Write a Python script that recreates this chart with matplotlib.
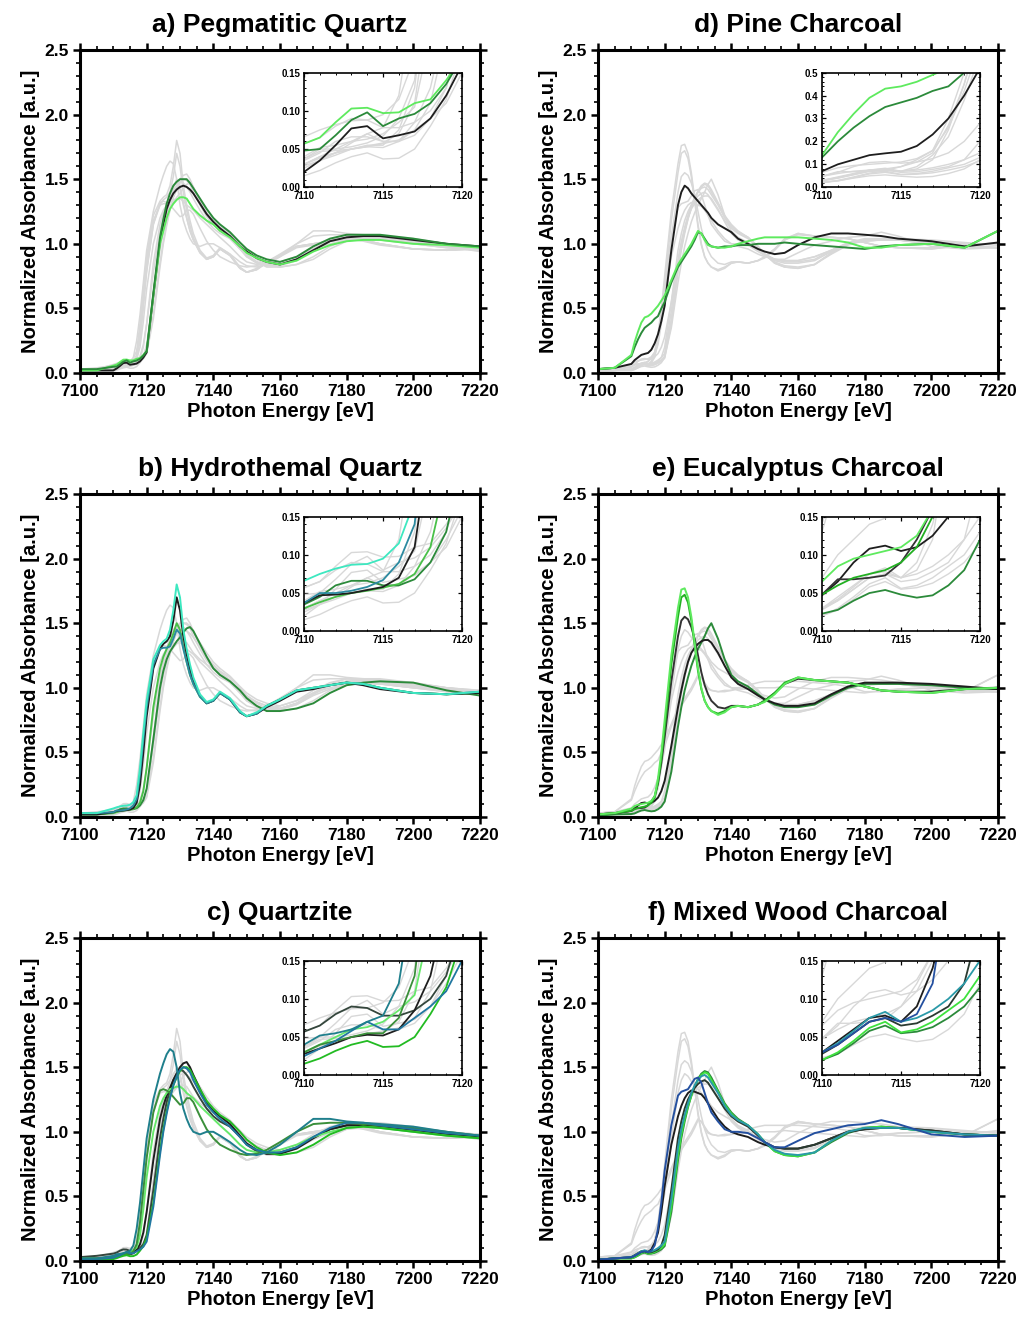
import matplotlib
matplotlib.use("Agg")
import matplotlib.pyplot as plt
from matplotlib.ticker import MultipleLocator, FormatStrFormatter

plt.rcParams['font.family'] = ['Liberation Sans', 'DejaVu Sans']
plt.rcParams['font.weight'] = 'bold'

# photon energy grid [eV]
energy = [7100, 7105, 7110, 7111, 7112, 7113, 7114, 7115, 7116, 7117, 7118, 7119, 7120,
          7122, 7124, 7125, 7126, 7127, 7128, 7129, 7130, 7131, 7132, 7133, 7134,
          7136, 7138, 7140, 7142, 7145, 7148, 7150, 7153, 7156, 7160, 7165, 7170,
          7175, 7180, 7185, 7190, 7200, 7210, 7220]

# a) Pegmatitic Quartz
a_black = [0.02, 0.02, 0.02, 0.035, 0.055, 0.077, 0.08, 0.064, 0.068, 0.073, 0.09, 0.12, 0.16,
           0.6, 1.02, 1.15, 1.27, 1.34, 1.39, 1.42, 1.44, 1.45, 1.44, 1.42, 1.39,
           1.31, 1.23, 1.17, 1.12, 1.06, 0.98, 0.94, 0.89, 0.86, 0.84, 0.88, 0.95,
           1.02, 1.05, 1.06, 1.06, 1.03, 1.0, 0.98]
a_dkgreen = [0.03, 0.03, 0.048, 0.05, 0.068, 0.088, 0.098, 0.08, 0.09, 0.096, 0.11, 0.135, 0.17,
             0.62, 1.05, 1.19, 1.31, 1.39, 1.45, 1.48, 1.5, 1.5, 1.5, 1.47, 1.43,
             1.35, 1.27, 1.2, 1.15, 1.09, 1.01, 0.96, 0.91, 0.88, 0.86, 0.9, 0.98,
             1.04, 1.07, 1.07, 1.07, 1.04, 1.0, 0.98]
a_ltgreen = [0.02, 0.02, 0.057, 0.065, 0.085, 0.103, 0.104, 0.097, 0.098, 0.11, 0.115, 0.14, 0.17,
             0.6, 1.0, 1.1, 1.2, 1.27, 1.31, 1.34, 1.36, 1.36, 1.35, 1.31, 1.27,
             1.22, 1.18, 1.15, 1.1, 1.05, 0.98, 0.93, 0.89, 0.86, 0.84, 0.87, 0.94,
             0.99, 1.02, 1.03, 1.03, 1.0, 0.99, 0.97]

# b) Hydrothemal Quartz
b_cyan = [0.03, 0.03, 0.066, 0.075, 0.082, 0.087, 0.088, 0.095, 0.115, 0.17, 0.38, 0.65, 0.9,
          1.22, 1.33, 1.36, 1.38, 1.45, 1.6, 1.8, 1.7, 1.45, 1.3, 1.18, 1.08,
          0.95, 0.89, 0.91, 0.97, 0.92, 0.82, 0.78, 0.81, 0.86, 0.91, 0.98, 1.0,
          1.02, 1.04, 1.03, 1.0, 0.96, 0.95, 0.97]
b_teal = [0.03, 0.03, 0.037, 0.05, 0.05, 0.053, 0.058, 0.067, 0.09, 0.14, 0.33, 0.6, 0.85,
          1.18, 1.3, 1.31, 1.31, 1.32, 1.38, 1.45, 1.42, 1.3, 1.2, 1.1, 1.03,
          0.93, 0.88, 0.9, 0.96, 0.91, 0.81, 0.78, 0.8, 0.86, 0.91, 0.98, 1.0,
          1.02, 1.04, 1.03, 1.0, 0.96, 0.95, 0.97]
b_black = [0.02, 0.02, 0.037, 0.047, 0.048, 0.05, 0.054, 0.058, 0.07, 0.11, 0.25, 0.5, 0.78,
           1.15, 1.3, 1.34, 1.36, 1.4, 1.52, 1.7, 1.6, 1.4, 1.26, 1.14, 1.05,
           0.94, 0.88, 0.9, 0.96, 0.91, 0.81, 0.78, 0.8, 0.85, 0.9, 0.97, 0.99,
           1.02, 1.04, 1.02, 0.99, 0.96, 0.95, 0.96]
b_green = [0.02, 0.02, 0.03, 0.038, 0.045, 0.05, 0.053, 0.057, 0.062, 0.075, 0.11, 0.2, 0.38,
           0.85, 1.15, 1.24, 1.3, 1.35, 1.42, 1.5, 1.45, 1.32, 1.2, 1.1, 1.03,
           0.93, 0.88, 0.9, 0.96, 0.91, 0.81, 0.78, 0.8, 0.86, 0.91, 0.98, 1.0,
           1.02, 1.04, 1.03, 1.0, 0.96, 0.95, 0.96]
b_dkgreen = [0.02, 0.02, 0.035, 0.045, 0.06, 0.066, 0.066, 0.06, 0.06, 0.068, 0.09, 0.13, 0.22,
             0.6, 1.0, 1.13, 1.22, 1.28, 1.32, 1.36, 1.39, 1.43, 1.46, 1.47, 1.44,
             1.34, 1.24, 1.15, 1.1, 1.05, 0.98, 0.92, 0.86, 0.82, 0.82, 0.84, 0.88,
             0.96, 1.02, 1.04, 1.05, 1.04, 0.98, 0.94]

# c) Quartzite
c_teal = [0.02, 0.02, 0.04, 0.052, 0.055, 0.06, 0.07, 0.078, 0.12, 0.25, 0.45, 0.7, 0.95,
          1.25, 1.45, 1.53, 1.6, 1.64, 1.62, 1.5, 1.3, 1.18, 1.1, 1.04, 1.0,
          0.98, 1.0, 1.0, 0.97, 0.92, 0.86, 0.83, 0.82, 0.84, 0.9, 1.0, 1.1,
          1.1, 1.08, 1.07, 1.06, 1.04, 1.0, 0.97]
c_green1 = [0.02, 0.02, 0.03, 0.04, 0.045, 0.05, 0.055, 0.055, 0.075, 0.13, 0.3, 0.55, 0.8,
            1.15, 1.32, 1.33, 1.32, 1.3, 1.27, 1.24, 1.21, 1.22, 1.26, 1.26, 1.23,
            1.12, 1.02, 0.95, 0.9, 0.86, 0.83, 0.82, 0.83, 0.86, 0.92, 1.0, 1.06,
            1.07, 1.07, 1.06, 1.05, 1.03, 1.0, 0.97]
c_black = [0.02, 0.02, 0.028, 0.035, 0.042, 0.05, 0.053, 0.052, 0.06, 0.085, 0.13, 0.22, 0.38,
           0.78, 1.1, 1.2, 1.28, 1.34, 1.4, 1.45, 1.5, 1.53, 1.54, 1.5, 1.44,
           1.33, 1.22, 1.16, 1.12, 1.06, 0.97, 0.91, 0.86, 0.83, 0.83, 0.87, 0.95,
           1.02, 1.05, 1.05, 1.05, 1.02, 0.98, 0.96]
c_dkgray = [0.03, 0.04, 0.057, 0.065, 0.08, 0.09, 0.088, 0.078, 0.078, 0.085, 0.1, 0.13, 0.2,
            0.55, 0.95, 1.1, 1.23, 1.32, 1.4, 1.45, 1.48, 1.47, 1.44, 1.4, 1.35,
            1.26, 1.18, 1.12, 1.08, 1.04, 0.96, 0.9, 0.85, 0.83, 0.84, 0.88, 0.96,
            1.02, 1.05, 1.05, 1.04, 1.01, 0.98, 0.96]
c_ltgreen = [0.02, 0.02, 0.03, 0.04, 0.05, 0.06, 0.063, 0.07, 0.085, 0.105, 0.2, 0.4, 0.65,
             1.0, 1.2, 1.26, 1.3, 1.33, 1.34, 1.35, 1.35, 1.33, 1.3, 1.28, 1.26,
             1.2, 1.15, 1.1, 1.05, 0.98, 0.9, 0.86, 0.84, 0.84, 0.86, 0.9, 0.96,
             1.0, 1.03, 1.04, 1.03, 1.0, 0.97, 0.95]
c_green2 = [0.01, 0.01, 0.015, 0.022, 0.032, 0.04, 0.045, 0.037, 0.038, 0.05, 0.08, 0.115, 0.18,
            0.45, 0.85, 1.02, 1.16, 1.27, 1.36, 1.42, 1.47, 1.5, 1.5, 1.48, 1.43,
            1.33, 1.24, 1.18, 1.13, 1.08, 1.0, 0.94, 0.88, 0.84, 0.82, 0.84, 0.9,
            0.98, 1.03, 1.04, 1.03, 1.0, 0.97, 0.95]
c_blue = [0.01, 0.015, 0.025, 0.035, 0.045, 0.058, 0.07, 0.06, 0.06, 0.075, 0.09, 0.11, 0.15,
          0.42, 0.82, 1.0, 1.14, 1.26, 1.36, 1.43, 1.48, 1.5, 1.49, 1.46, 1.4,
          1.3, 1.21, 1.15, 1.1, 1.04, 0.96, 0.9, 0.86, 0.84, 0.84, 0.88, 0.96,
          1.03, 1.07, 1.07, 1.05, 1.02, 0.99, 0.97]

# d) Pine Charcoal
d_black = [0.03, 0.04, 0.07, 0.1, 0.12, 0.14, 0.148, 0.155, 0.18, 0.23, 0.3, 0.4, 0.52,
           0.95, 1.3, 1.4, 1.45, 1.43, 1.39, 1.36, 1.33, 1.3, 1.27, 1.24, 1.2,
           1.15, 1.12, 1.09, 1.04, 1.0, 0.96, 0.94, 0.92, 0.93, 0.99, 1.05, 1.08,
           1.08, 1.07, 1.06, 1.04, 1.02, 0.98, 1.01]
d_dkgreen = [0.03, 0.04, 0.13, 0.2, 0.26, 0.31, 0.35, 0.37, 0.39, 0.42, 0.44, 0.5, 0.55,
             0.7, 0.82, 0.86, 0.9, 0.94, 0.98, 1.03, 1.09, 1.08, 1.04, 1.0, 0.98,
             0.97, 0.98, 0.98, 0.99, 0.99, 1.0, 1.0, 1.0, 1.01, 1.0, 0.99, 0.98,
             0.97, 0.96, 0.98, 0.99, 1.0, 0.97, 1.1]
d_ltgreen = [0.03, 0.04, 0.14, 0.24, 0.32, 0.39, 0.43, 0.44, 0.46, 0.49, 0.52, 0.56, 0.6,
             0.72, 0.84, 0.88, 0.92, 0.96, 1.0, 1.05, 1.1, 1.08, 1.03, 0.99, 0.98,
             0.97, 0.97, 0.98, 1.0, 1.02, 1.04, 1.05, 1.05, 1.05, 1.05, 1.04, 1.03,
             1.01, 0.97, 0.97, 0.99, 1.0, 0.97, 1.1]

# e) Eucalyptus Charcoal
e_ltgreen = [0.02, 0.03, 0.065, 0.085, 0.095, 0.1, 0.105, 0.11, 0.125, 0.16, 0.3, 0.5, 0.75,
             1.25, 1.62, 1.76, 1.77, 1.7, 1.55, 1.35, 1.15, 1.0, 0.9, 0.85, 0.82,
             0.79, 0.81, 0.85, 0.86, 0.85, 0.87, 0.89, 0.95, 1.03, 1.08, 1.06, 1.05,
             1.04, 1.01, 0.98, 0.97, 0.96, 0.99, 1.0]
e_green = [0.02, 0.03, 0.048, 0.06, 0.07, 0.075, 0.08, 0.09, 0.11, 0.15, 0.27, 0.45, 0.68,
           1.18, 1.55, 1.7, 1.72, 1.66, 1.52, 1.33, 1.13, 0.99, 0.9, 0.85, 0.82,
           0.8, 0.82, 0.85, 0.86, 0.85, 0.87, 0.9, 0.96, 1.04, 1.08, 1.06, 1.05,
           1.04, 1.01, 0.98, 0.97, 0.96, 0.99, 1.0]
e_black1 = [0.02, 0.03, 0.048, 0.068, 0.068, 0.07, 0.073, 0.09, 0.12, 0.16, 0.26, 0.42, 0.62,
            1.05, 1.4, 1.52, 1.55, 1.53, 1.47, 1.38, 1.25, 1.12, 1.02, 0.95, 0.9,
            0.85, 0.84, 0.86, 0.86, 0.85, 0.87, 0.9, 0.96, 1.03, 1.07, 1.06, 1.05,
            1.04, 1.01, 0.98, 0.97, 0.97, 0.99, 1.0]
e_black2 = [0.02, 0.03, 0.047, 0.065, 0.09, 0.108, 0.112, 0.105, 0.11, 0.125, 0.15, 0.2, 0.28,
            0.55, 0.85, 0.98, 1.1, 1.2, 1.27, 1.31, 1.34, 1.36, 1.37, 1.37, 1.35,
            1.27, 1.17, 1.08, 1.03, 0.99, 0.94, 0.91, 0.88, 0.86, 0.86, 0.88, 0.95,
            1.01, 1.04, 1.04, 1.04, 1.03, 1.01, 0.99]
e_dkgreen = [0.01, 0.02, 0.023, 0.028, 0.04, 0.05, 0.054, 0.048, 0.044, 0.047, 0.06, 0.08, 0.12,
             0.35, 0.7, 0.85, 0.98, 1.08, 1.17, 1.24, 1.3, 1.35, 1.4, 1.46, 1.5,
             1.38, 1.22, 1.1, 1.05, 1.01, 0.95, 0.91, 0.87, 0.85, 0.85, 0.87, 0.94,
             1.0, 1.03, 1.03, 1.03, 1.02, 1.0, 0.99]

# f) Mixed Wood Charcoal
f_blue = [0.01, 0.02, 0.03, 0.04, 0.055, 0.07, 0.075, 0.07, 0.08, 0.12, 0.25, 0.45, 0.7,
          1.05, 1.28, 1.31, 1.32, 1.33, 1.37, 1.41, 1.42, 1.38, 1.3, 1.22, 1.15,
          1.08, 1.02, 1.0, 1.0, 0.99, 0.95, 0.92, 0.88, 0.88, 0.93, 0.99, 1.02,
          1.05, 1.06, 1.09, 1.06, 0.98, 0.96, 0.97]
f_black1 = [0.01, 0.02, 0.03, 0.045, 0.06, 0.075, 0.078, 0.07, 0.09, 0.14, 0.22, 0.38, 0.58,
            0.9, 1.12, 1.2, 1.26, 1.3, 1.32, 1.31, 1.3, 1.29, 1.26, 1.22, 1.18,
            1.1, 1.04, 1.0, 0.98, 0.96, 0.92, 0.9, 0.88, 0.87, 0.87, 0.9, 0.95,
            1.0, 1.02, 1.03, 1.03, 1.01, 0.98, 0.97]
f_black2 = [0.01, 0.02, 0.028, 0.04, 0.055, 0.07, 0.075, 0.065, 0.068, 0.078, 0.09, 0.12, 0.2,
            0.55, 0.95, 1.08, 1.18, 1.25, 1.3, 1.34, 1.37, 1.39, 1.4, 1.38, 1.34,
            1.26, 1.18, 1.12, 1.08, 1.04, 0.97, 0.92, 0.88, 0.87, 0.87, 0.9, 0.95,
            1.0, 1.02, 1.03, 1.03, 1.01, 0.98, 0.97]
f_teal = [0.01, 0.02, 0.03, 0.042, 0.058, 0.075, 0.083, 0.07, 0.075, 0.085, 0.1, 0.12, 0.15,
          0.48, 0.88, 1.02, 1.13, 1.22, 1.3, 1.36, 1.4, 1.43, 1.44, 1.42, 1.38,
          1.3, 1.2, 1.13, 1.09, 1.05, 0.98, 0.92, 0.86, 0.83, 0.82, 0.84, 0.93,
          1.0, 1.03, 1.03, 1.03, 1.0, 0.98, 0.97]
f_ltgreen = [0.01, 0.02, 0.02, 0.03, 0.045, 0.062, 0.07, 0.056, 0.06, 0.07, 0.085, 0.1, 0.13,
             0.42, 0.82, 0.98, 1.1, 1.2, 1.28, 1.35, 1.4, 1.44, 1.46, 1.45, 1.4,
             1.31, 1.21, 1.14, 1.09, 1.05, 0.98, 0.92, 0.85, 0.82, 0.81, 0.84, 0.93,
             1.0, 1.03, 1.04, 1.03, 1.0, 0.98, 0.97]
f_dkgreen = [0.01, 0.02, 0.02, 0.028, 0.042, 0.058, 0.065, 0.055, 0.057, 0.063, 0.075, 0.09, 0.115,
             0.38, 0.78, 0.95, 1.08, 1.19, 1.28, 1.35, 1.41, 1.45, 1.47, 1.46, 1.42,
             1.32, 1.22, 1.15, 1.1, 1.05, 0.98, 0.92, 0.85, 0.82, 0.81, 0.84, 0.92,
             0.99, 1.03, 1.04, 1.03, 1.0, 0.98, 0.97]

titles = ["a) Pegmatitic Quartz", "b) Hydrothemal Quartz", "c) Quartzite",
          "d) Pine Charcoal", "e) Eucalyptus Charcoal", "f) Mixed Wood Charcoal"]

BLACK = '#1e1e1e'
DKGREEN = '#2b8a3a'
LTGREEN = '#5eea5e'

samples = [
    [(a_black, BLACK), (a_ltgreen, LTGREEN), (a_dkgreen, DKGREEN)],
    [(b_dkgreen, DKGREEN), (b_green, '#48c048'), (b_black, BLACK), (b_teal, '#2c8aa0'), (b_cyan, '#3de8c0')],
    [(c_dkgray, '#34463c'), (c_black, BLACK), (c_ltgreen, '#66e86a'), (c_green1, '#3a8f3a'),
     (c_green2, '#22bb22'), (c_blue, '#2077a0'), (c_teal, '#1f7f8c')],
    [(d_black, BLACK), (d_dkgreen, DKGREEN), (d_ltgreen, LTGREEN)],
    [(e_dkgreen, DKGREEN), (e_black2, BLACK), (e_black1, '#333333'), (e_green, '#22b022'), (e_ltgreen, LTGREEN)],
    [(f_dkgreen, DKGREEN), (f_ltgreen, '#3ee23e'), (f_black1, BLACK), (f_black2, '#2a3a30'),
     (f_teal, '#2a9aa8'), (f_blue, '#2450a0')],
]
inset_top = [0.15, 0.15, 0.15, 0.5, 0.15, 0.15]

fig = plt.figure(figsize=(10.19, 13.18), dpi=100)
lefts = [80 / 1019, 598 / 1019]
bottoms = [1 - 373 / 1318, 1 - 817 / 1318, 1 - 1261 / 1318]
w, h = 400 / 1019, 323 / 1318

for i in range(6):
    col, row = i // 3, i % 3
    ax = fig.add_axes([lefts[col], bottoms[row], w, h])
    ins = ax.inset_axes([0.56, 0.575, 0.395, 0.355])

    # other panels of the same column are shown in grey
    others = []
    for j in range(col * 3, col * 3 + 3):
        if j != i:
            others += [s for s, c in samples[j]]

    for target, lw_g, lw_c in [(ax, 1.1, 1.4), (ins, 1.0, 1.3)]:
        for s in others:
            target.plot(energy, s, color='#d8d8d8', lw=lw_g)
        for s, c in samples[i]:
            target.plot(energy, s, color=c, lw=lw_c)

    ax.set_xlim(7100, 7220)
    ax.set_ylim(0, 2.5)
    ax.set_xticks([7100, 7120, 7140, 7160, 7180, 7200, 7220])
    ax.set_yticks([0, 0.5, 1.0, 1.5, 2.0, 2.5])
    ax.xaxis.set_minor_locator(MultipleLocator(5))
    ax.yaxis.set_minor_locator(MultipleLocator(0.1))
    ax.yaxis.set_major_formatter(FormatStrFormatter('%.1f'))
    ax.tick_params(which='both', direction='out', top=True, right=True, labelsize=12.5, pad=3)
    ax.tick_params(which='major', length=5, width=1.8)
    ax.tick_params(which='minor', length=3, width=1.2)
    for sp in ax.spines.values():
        sp.set_linewidth(2.2)
    ax.set_title(titles[i], fontsize=19, fontweight='bold', pad=13)
    ax.set_xlabel("Photon Energy [eV]", fontsize=14.5, fontweight='bold', labelpad=2)
    ax.set_ylabel("Normalized Absorbance [a.u.]", fontsize=14.5, fontweight='bold', labelpad=3)

    ins.set_xlim(7110, 7120)
    ins.set_ylim(0, inset_top[i])
    ins.set_xticks([7110, 7115, 7120])
    ins.xaxis.set_minor_locator(MultipleLocator(1))
    if inset_top[i] > 0.2:
        ins.set_yticks([0, 0.1, 0.2, 0.3, 0.4, 0.5])
        ins.yaxis.set_minor_locator(MultipleLocator(0.02))
        ins.yaxis.set_major_formatter(FormatStrFormatter('%.1f'))
    else:
        ins.set_yticks([0, 0.05, 0.10, 0.15])
        ins.yaxis.set_minor_locator(MultipleLocator(0.01))
        ins.yaxis.set_major_formatter(FormatStrFormatter('%.2f'))
    ins.tick_params(which='both', direction='in', top=True, right=True, labelsize=7, pad=2.5)
    ins.tick_params(which='major', length=3, width=0.9)
    ins.tick_params(which='minor', length=1.5, width=0.7)
    for sp in ins.spines.values():
        sp.set_linewidth(1.2)

fig.savefig("out.png", dpi=100)
